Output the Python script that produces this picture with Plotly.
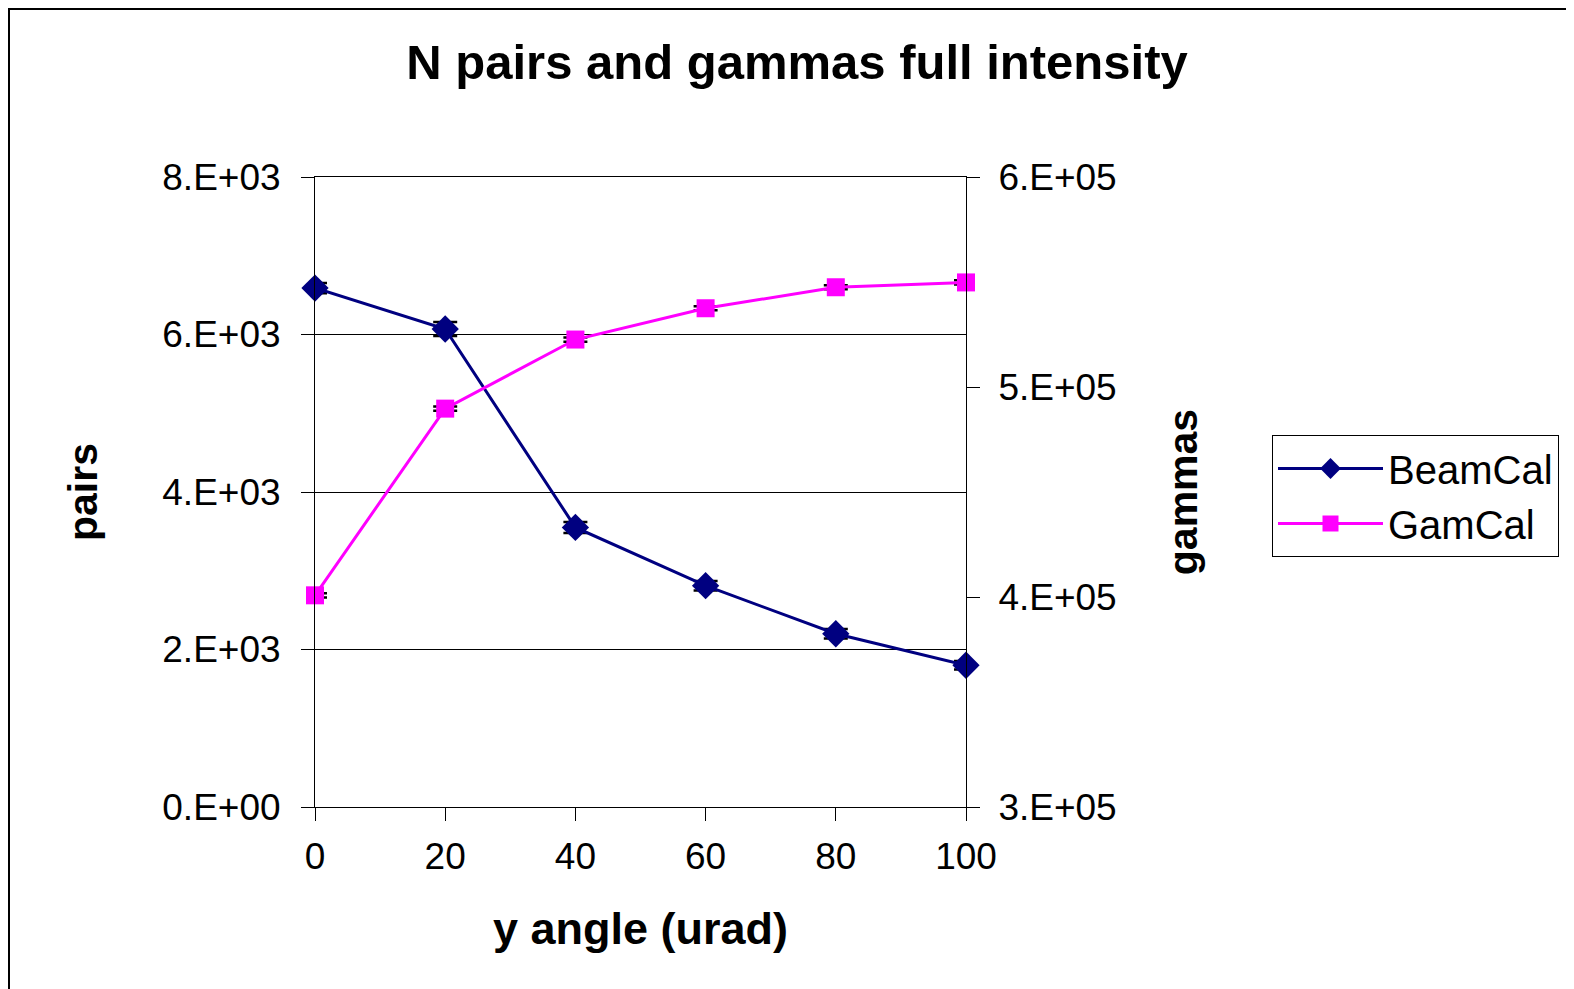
import plotly.graph_objects as go

# ---- data ----
angles = [0, 20, 40, 60, 80, 100]
beamcal_pairs = [6590, 6070, 3550, 2810, 2200, 1800]
beamcal_err = [65, 90, 70, 60, 60, 55]
gamcal_gammas = [400800, 489700, 522600, 537500, 547500, 549800]
gamcal_err = [1000, 1000, 1000, 1000, 1000, 1000]

x_ticks = [0, 20, 40, 60, 80, 100]
left_tickvals = [0, 2000, 4000, 6000, 8000]
left_ticktext = ["0.E+00", "2.E+03", "4.E+03", "6.E+03", "8.E+03"]
right_tickvals = [300000, 400000, 500000, 600000]
right_ticktext = ["3.E+05", "4.E+05", "5.E+05", "6.E+05"]

FONT = "Liberation Sans, Arial, sans-serif"
W, H = 1574, 989
OFF = 8  # page offset of the figure (body margin)
L, R, T, B = 315 - OFF, 966 - OFF, 177 - OFF, 807 - OFF  # plot area in figure pixels

fig = go.Figure()
fig.add_trace(go.Scatter(
    x=angles, y=beamcal_pairs, name="BeamCal", mode="lines+markers",
    line=dict(color="#000080", width=3),
    marker=dict(symbol="diamond", size=21, color="#000080"),
    error_y=dict(type="data", array=beamcal_err, visible=True,
                 color="black", thickness=2.5, width=12),
    cliponaxis=False, yaxis="y",
))
fig.add_trace(go.Scatter(
    x=angles, y=gamcal_gammas, name="GamCal", mode="lines+markers",
    line=dict(color="#FF00FF", width=3),
    marker=dict(symbol="square", size=18, color="#FF00FF"),
    error_y=dict(type="data", array=gamcal_err, visible=True,
                 color="black", thickness=2.5, width=12),
    cliponaxis=False, yaxis="y2",
))

def px_x(p):
    return (p - OFF - L) / (R - L)

def px_y(p):
    return (B - (p - OFF)) / (B - T)

fig.update_layout(
    width=W, height=H,
    margin=dict(l=L, r=W - R, t=T, b=H - B, autoexpand=False),
    paper_bgcolor="white", plot_bgcolor="white",
    font=dict(family=FONT, color="black", size=37),
    title=dict(text="<b>N pairs and gammas full intensity</b>",
               x=(797 - OFF) / W, xanchor="center", y=1 - (62 - OFF) / H,
               yanchor="middle",
               font=dict(size=49, family=FONT, color="black")),
    xaxis=dict(
        range=[0, 100], tickvals=x_ticks, ticks="outside", ticklen=13,
        tickcolor="black", tickwidth=1, showline=True, linecolor="black",
        linewidth=1, mirror=True, showgrid=False, zeroline=False,
        tickfont=dict(size=37, family=FONT), ticklabelstandoff=4,
        title=dict(text="<b>y angle (urad)</b>", font=dict(size=45, family=FONT),
                   standoff=36),
    ),
    yaxis=dict(
        range=[0, 8000], tickvals=left_tickvals, ticktext=left_ticktext,
        ticks="outside", ticklen=13, tickcolor="black", showline=True,
        linecolor="black", linewidth=1, showgrid=True, gridcolor="black",
        gridwidth=1, zeroline=False, tickfont=dict(size=37, family=FONT),
        ticklabelstandoff=13,
        title=dict(text="<b>pairs</b>", font=dict(size=41, family=FONT),
                   standoff=51),
    ),
    yaxis2=dict(
        range=[300000, 600000], tickvals=right_tickvals, ticktext=right_ticktext,
        overlaying="y", side="right", ticks="outside", ticklen=13,
        tickcolor="black", showline=True, linecolor="black", linewidth=1,
        showgrid=False, zeroline=False, tickfont=dict(size=37, family=FONT),
        ticklabelstandoff=11,
        title=dict(text="<b>gammas</b>", font=dict(size=41, family=FONT),
                   standoff=52),
    ),
    legend=dict(
        x=px_x(1272), y=px_y(435), xanchor="left", yanchor="top",
        bordercolor="black", borderwidth=1, bgcolor="white",
        font=dict(size=40, family=FONT), itemwidth=105,
        tracegroupgap=0,
    ),
    shapes=[dict(
        type="rect", xref="paper", yref="paper",
        x0=px_x(9), x1=px_x(1600), y0=px_y(1010), y1=px_y(9),
        line=dict(color="black", width=2), fillcolor="rgba(0,0,0,0)",
        layer="below",
    )],
)

fig.write_html("out.html")
